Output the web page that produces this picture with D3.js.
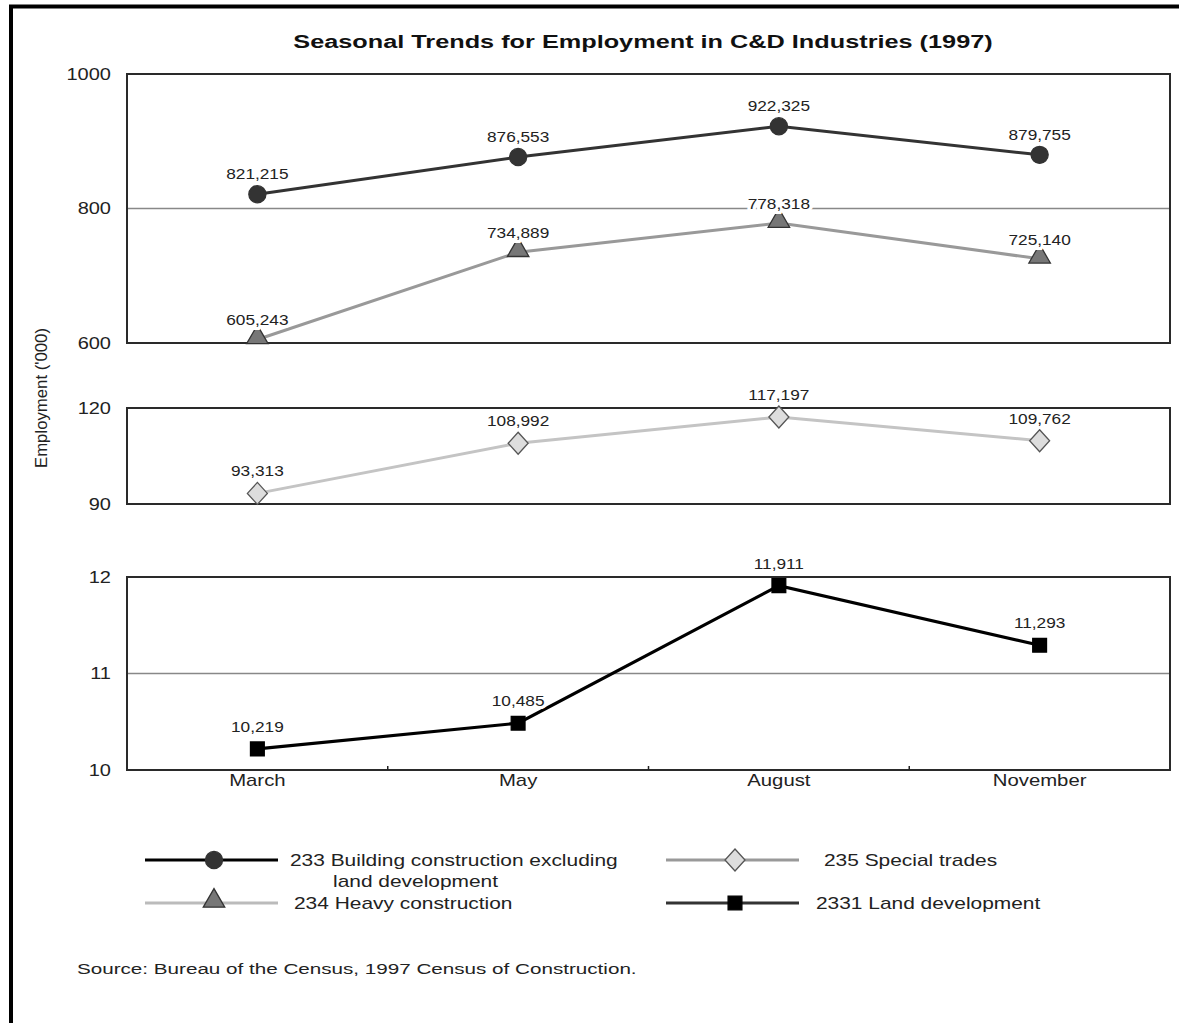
<!DOCTYPE html>
<html>
<head>
<meta charset="utf-8">
<script src="https://cdn.jsdelivr.net/npm/d3@7"></script>
<style>
  body { margin: 0; background: #fff; }
  svg text { font-family: "Liberation Sans", Arial, Helvetica, sans-serif; }
</style>
</head>
<body>
<div id="chart"></div>
<script>
// data
const months = ["March", "May", "August", "November"];
const building = [821215, 876553, 922325, 879755];   // 233
const heavy = [605243, 734889, 778318, 725140];      // 234
const special = [93313, 108992, 117197, 109762];     // 235
const landDev = [10219, 10485, 11911, 11293];        // 2331
const topTicks = [600000, 800000, 1000000];
const midTicks = [90000, 120000];
const lowTicks = [10000, 11000, 12000];

const width = 1179, height = 1023;
const svg = d3.select("#chart").append("svg")
    .attr("width", width)
    .attr("height", height);

// the scan's type is wider than Liberation Sans: widen glyphs about the text's x
function stretch(sel, k) {
    sel.each(function () {
        const x0 = +this.getAttribute("x") || 0;
        d3.select(this).attr("transform", `translate(${x0 * (1 - k)},0) scale(${k},1)`);
    });
}
function fitWidth(sel, w) {
    sel.each(function () {
        d3.select(this).call(stretch, w / this.getComputedTextLength());
    });
}

// outer frame (only top and left visible)
svg.append("line").attr("x1", 9).attr("x2", width).attr("y1", 6.5).attr("y2", 6.5)
    .attr("stroke", "#000").attr("stroke-width", 4);
svg.append("line").attr("x1", 11).attr("x2", 11).attr("y1", 5).attr("y2", height)
    .attr("stroke", "#000").attr("stroke-width", 4);

svg.append("text")
    .attr("x", 643).attr("y", 48)
    .attr("text-anchor", "middle")
    .attr("font-size", "18.5px")
    .attr("font-weight", "bold")
    .attr("fill", "#111")
    .text("Seasonal Trends for Employment in C&D Industries (1997)")
    .call(fitWidth, 700);

svg.append("text")
    .attr("transform", "translate(47,398) rotate(-90)")
    .attr("text-anchor", "middle")
    .attr("font-size", "17px")
    .attr("fill", "#222")
    .attr("textLength", 140)
    .attr("lengthAdjust", "spacingAndGlyphs")
    .text("Employment ('000)");

const x = d3.scaleBand().domain(months).range([127, 1170]);
const cx = (m) => x(m) + x.bandwidth() / 2;

const panels = [
    {ticks: topTicks, domain: [600000, 1000000], range: [343, 74], grid: [800000]},
    {ticks: midTicks, domain: [90000, 120000], range: [504, 408], grid: []},
    {ticks: lowTicks, domain: [10000, 12000], range: [770, 577], grid: [11000]}
];
panels.forEach((p) => { p.y = d3.scaleLinear().domain(p.domain).range(p.range); });

panels.forEach((p) => {
    const g = svg.append("g");
    p.grid.forEach((v) => {
        g.append("line")
            .attr("x1", 127).attr("x2", 1170)
            .attr("y1", p.y(v)).attr("y2", p.y(v))
            .attr("stroke", "#888").attr("stroke-width", 1.3);
    });
    g.append("rect")
        .attr("x", 127).attr("y", p.range[1])
        .attr("width", 1170 - 127).attr("height", p.range[0] - p.range[1])
        .attr("fill", "none").attr("stroke", "#2a2a2a").attr("stroke-width", 2);
    const ax = g.append("g")
        .attr("transform", "translate(127,0)")
        .call(d3.axisLeft(p.y).tickValues(p.ticks).tickSize(0).tickPadding(16)
            .tickFormat((d) => d / 1000));
    ax.select(".domain").remove();
    ax.selectAll("text").attr("font-size", "16px").attr("fill", "#222")
        .attr("font-family", "Liberation Sans, Arial, sans-serif")
        .call(stretch, 1.25);
});

// bottom axis: month labels + small ticks between categories
const low = panels[2];
const xAxis = svg.append("g")
    .attr("transform", `translate(0,${low.range[0]})`)
    .call(d3.axisBottom(x).tickSize(0).tickPadding(5));
xAxis.select(".domain").remove();
xAxis.selectAll("text").attr("font-size", "16px").attr("fill", "#222")
    .attr("font-family", "Liberation Sans, Arial, sans-serif")
    .call(stretch, 1.27);
svg.selectAll(".btick")
    .data(months.slice(1))
    .enter().append("line")
    .attr("class", "btick")
    .attr("x1", (d) => x(d)).attr("x2", (d) => x(d))
    .attr("y1", low.range[0] - 4).attr("y2", low.range[0])
    .attr("stroke", "#222").attr("stroke-width", 1.5);

const fmt = d3.format(",");

const series = [
    {values: building, panel: 0, line: "#333", width: 3, marker: "circle", fill: "#333", stroke: "#333", dy: -15},
    {values: heavy, panel: 0, line: "#999", width: 3, marker: "triangle", fill: "#777", stroke: "#333", dy: -14},
    {values: special, panel: 1, line: "#c4c4c4", width: 3, marker: "diamond", fill: "#ddd", stroke: "#555", dy: -17},
    {values: landDev, panel: 2, line: "#000", width: 3.2, marker: "square", fill: "#000", stroke: "#000", dy: -17}
];

const symbolPath = {
    circle: d3.symbol().type(d3.symbolCircle).size(230),
    triangle: d3.symbol().type(d3.symbolTriangle).size(200),
    diamond: () => "M0,-11L10,0L0,11L-10,0Z",
    square: d3.symbol().type(d3.symbolSquare).size(190)
};

series.forEach((s) => {
    const y = panels[s.panel].y;
    const pts = months.map((m, i) => ({m: m, v: s.values[i]}));
    const g = svg.append("g");
    g.append("path")
        .datum(pts)
        .attr("fill", "none")
        .attr("stroke", s.line)
        .attr("stroke-width", s.width)
        .attr("d", d3.line().x((d) => cx(d.m)).y((d) => y(d.v)));
    g.selectAll(".mk")
        .data(pts)
        .enter().append("path")
        .attr("class", "mk")
        .attr("transform", (d) => `translate(${cx(d.m)},${y(d.v) - (s.marker === "triangle" ? 2 : 0)})`)
        .attr("d", symbolPath[s.marker])
        .attr("fill", s.fill)
        .attr("stroke", s.stroke)
        .attr("stroke-width", 1.3);
    g.selectAll(".lbl")
        .data(pts)
        .enter().append("text")
        .attr("class", "lbl")
        .attr("x", (d) => cx(d.m))
        .attr("y", (d) => y(d.v) + s.dy)
        .attr("text-anchor", "middle")
        .attr("font-size", "15px")
        .attr("fill", "#222")
        .attr("stroke", "#fff")
        .attr("stroke-width", 6)
        .attr("paint-order", "stroke")
        .text((d) => fmt(d.v))
        .call(stretch, 1.15);
});

// legend
const legendItems = [
    {s: series[0], x: 145, y: 860, text: ["233 Building construction excluding", "land development"], tx: 290, line: "#000"},
    {s: series[1], x: 145, y: 903, text: ["234 Heavy construction"], tx: 294, line: "#bbb"},
    {s: series[2], x: 666, y: 860, text: ["235 Special trades"], tx: 824, line: "#999"},
    {s: series[3], x: 666, y: 903, text: ["2331 Land development"], tx: 816, line: "#333"}
];
const legend = svg.append("g");
legendItems.forEach((it) => {
    legend.append("line")
        .attr("x1", it.x).attr("x2", it.x + 133)
        .attr("y1", it.y).attr("y2", it.y)
        .attr("stroke", it.line).attr("stroke-width", 3);
    legend.append("path")
        .attr("transform", `translate(${it.x + 69},${it.y - (it.s.marker === "triangle" ? 2 : 0)})`)
        .attr("d", symbolPath[it.s.marker])
        .attr("fill", it.s.fill)
        .attr("stroke", it.s.stroke)
        .attr("stroke-width", 1.3);
    it.text.forEach((t, i) => {
        legend.append("text")
            .attr("x", i === 0 ? it.tx : it.tx + 43)
            .attr("y", it.y + 6 + i * 21)
            .attr("font-size", "17px")
            .attr("fill", "#222")
            .text(t)
            .call(stretch, 1.23);
    });
});

svg.append("text")
    .attr("x", 77).attr("y", 974)
    .attr("font-size", "15px")
    .attr("fill", "#222")
    .text("Source: Bureau of the Census, 1997 Census of Construction.")
    .call(fitWidth, 560);
</script>
</body>
</html>
